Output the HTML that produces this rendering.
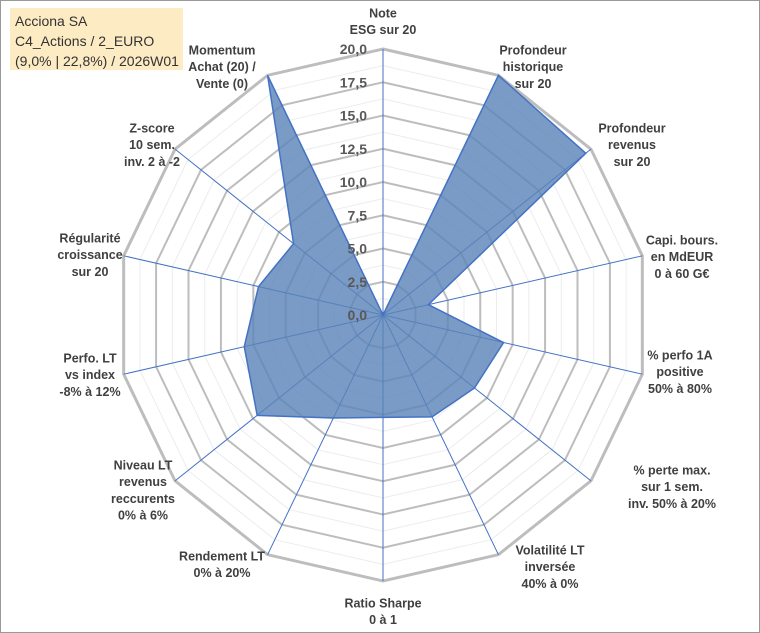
<!DOCTYPE html>
<html><head><meta charset="utf-8"><style>
html,body{margin:0;padding:0;background:#fff}
svg{display:block;font-family:"Liberation Sans",sans-serif}
</style></head><body>
<svg id="chart" width="760" height="633" viewBox="0 0 760 633">
<rect x="0.5" y="0.5" width="759" height="632" fill="#fff" stroke="#9a9a9a"/>
<g>
<rect x="10" y="8" width="173" height="62" fill="#fdebc4"/>
<text x="15" y="26" font-size="14" fill="#333">Acciona SA</text>
<text x="15" y="46" font-size="14" fill="#333">C4_Actions / 2_EURO</text>
<text x="15" y="66" font-size="14" fill="#333">(9,0% | 22,8%) / 2026W01</text>
</g>
<g id="grid"></g>
<g id="series"></g>
<g id="ticks"></g>
<g id="labels"></g>
</svg>
<script>
const categories=[
["Note","ESG sur 20"],
["Profondeur","historique","sur 20"],
["Profondeur","revenus","sur 20"],
["Capi. bours.","en MdEUR","0 à 60 G€"],
["% perfo 1A","positive","50% à 80%"],
["% perte max.","sur 1 sem.","inv. 50% à 20%"],
["Volatilité LT","inversée","40% à 0%"],
["Ratio Sharpe","0 à 1"],
["Rendement LT","0% à 20%"],
["Niveau LT","revenus","reccurents","0% à 6%"],
["Perfo. LT","vs index","-8% à 12%"],
["Régularité","croissance","sur 20"],
["Z-score","10 sem.","inv. 2 à -2"],
["Momentum","Achat (20) /","Vente (0)"]
];
const values=[0,20,19.5,3.5,9.3,8.8,8.5,7.7,8.6,12.1,10.7,9.6,8.6,20];
const tickLabels=["0,0","2,5","5,0","7,5","10,0","12,5","15,0","17,5","20,0"];
const labelPos=[[383,13],[533,50],[632,128],[682,240],[680,355],[672,470],[550,550],[383,603],[222,556],[143,465],[90,358],[90,238],[152,128],[222,50]];
const cx=383,cy=315,R=266,MAX=20;
const NS="http://www.w3.org/2000/svg";
const N=categories.length;
function ang(i){return i*2*Math.PI/N;}
function pt(i,v){const r=v/MAX*R;return [cx+r*Math.sin(ang(i)),cy-r*Math.cos(ang(i))];}
function mk(tag,attrs,parent){const e=document.createElementNS(NS,tag);for(const k in attrs)e.setAttribute(k,attrs[k]);parent.appendChild(e);return e;}
const grid=document.getElementById('grid');
for(let s=1;s<=16;s++){
 const v=s*1.25;
 const pts=[];for(let i=0;i<N;i++)pts.push(pt(i,v).join(','));
 const major=s%2===0;
 const p=mk('polygon',{points:pts.join(' '),fill:'none',stroke:major?'#bdbdbd':'#ececec','stroke-width':major?(s===16?3:2):1},grid);
 
 
}
for(let i=0;i<N;i++){
 const [x,y]=pt(i,MAX);
 const l=mk('line',{x1:cx,y1:cy,x2:x,y2:y,stroke:'#4472c4','stroke-width':1},grid);
 
 
}
const ser=document.getElementById('series');
const sp=values.map((v,i)=>pt(i,v).join(',')).join(' ');
const poly=mk('polygon',{points:sp,fill:'#5b85b8','fill-opacity':0.82,stroke:'#4472c4','stroke-width':1.5},ser);


const ticks=document.getElementById('ticks');
tickLabels.forEach((t,k)=>{
 const y=cy-k*2.5/MAX*R;
 const e=mk('text',{x:367,y:y+5,'text-anchor':'end','font-size':14,'font-weight':'bold',fill:'#595959'},ticks);
 e.textContent=t;
 
 
});
const labels=document.getElementById('labels');
categories.forEach((lines,i)=>{
 const g=mk('g',{},labels);
 
 
 lines.forEach((ln,j)=>{
  const e=mk('text',{x:labelPos[i][0],y:labelPos[i][1]+j*16.7+4.5,'text-anchor':'middle','font-size':12.5,'font-weight':'bold',fill:'#404040'},g);
  e.textContent=ln;
 });
});
</script>
</body></html>
